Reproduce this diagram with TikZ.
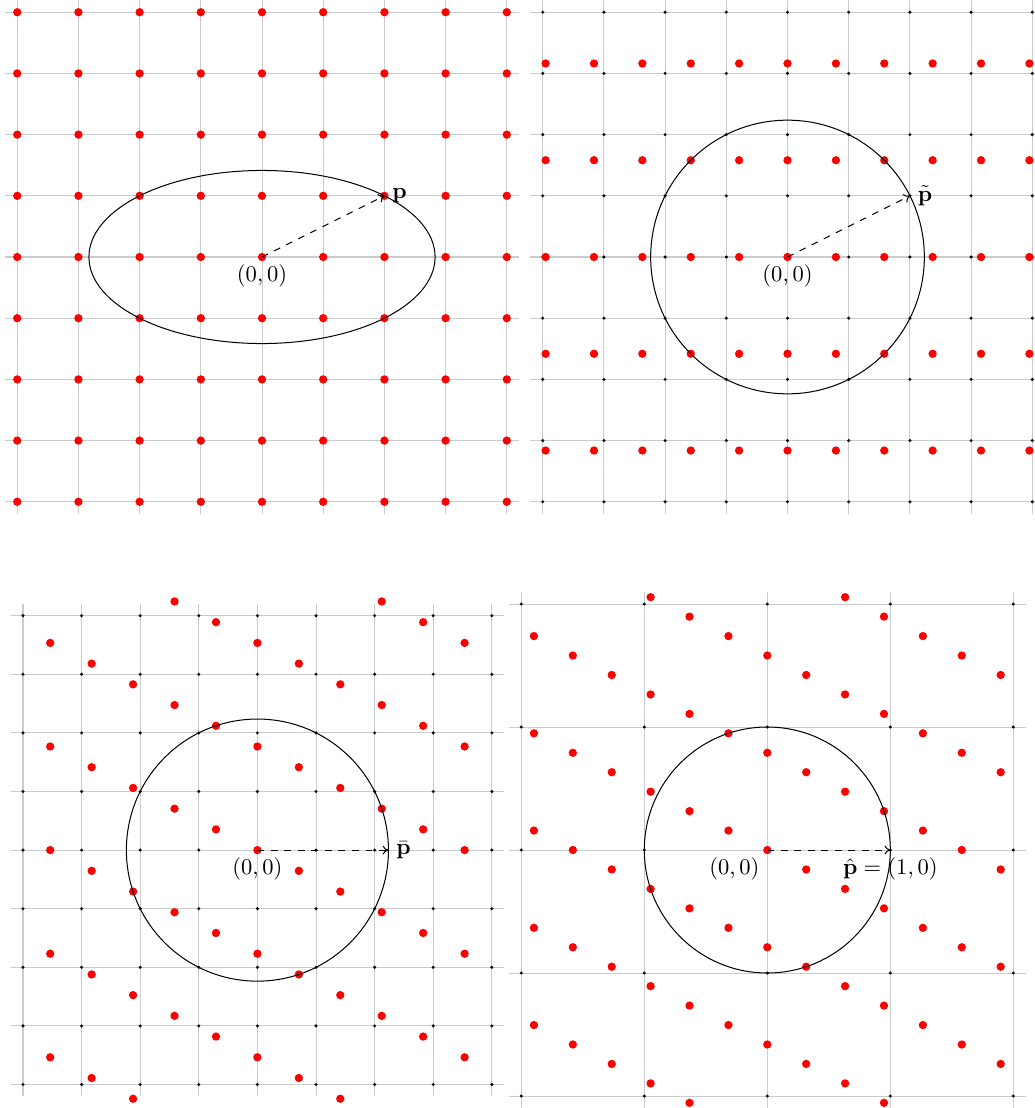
\documentclass[tikz,border=0pt]{standalone}
\usetikzlibrary{arrows.meta}
\tikzset{
  gridline/.style={gray!40, line width=0.45pt},
  reddot/.style={fill=red},
  blackdot/.style={fill=black},
  curve/.style={black, line width=0.45pt},
  vecarrow/.style={dashed, line width=0.45pt, -{To[length=2.6pt,width=4pt]}},
  lbl/.style={inner sep=3.33pt}
}
\begin{document}
\begin{tikzpicture}
\useasboundingbox (0,0) rectangle (459.1pt,-491.95pt);

% ---------- Panel 1 ----------
\begin{scope}[shift={(116.33pt,-114.11pt)}, x=27.17pt, y=27.17pt]
  \draw[gridline, step=1] (-4.2,-4.2) grid (4.2,4.2);
  \foreach \i in {-4,...,4}
    \foreach \j in {-4,...,4}
      \fill[reddot] (\i,\j) circle (1.85pt);
  \draw[curve] (0,0) ellipse [x radius=2.8284, y radius=1.4142];
  \coordinate (o1) at (0,0);
  \coordinate (p1) at (2,1);
  \draw[vecarrow] (o1) -- (p1);
  \node[lbl, below] (l01) at (o1) {$(0,0)$};
  \node[lbl, right] (lp1) at (p1) {$\mathbf{p}$};
\end{scope}

% ---------- Panel 2 ----------
\begin{scope}[shift={(349.65pt,-114.11pt)}, x=27.17pt, y=27.17pt]
  \draw[gridline, step=1] (-4.2,-4.2) grid (4.2,4.2);
  \foreach \i in {-4,...,4}
    \foreach \j in {-4,...,4}
      \fill[blackdot] (\i,\j) circle (0.75pt);
  \foreach \i in {-5,...,5}
    \foreach \j in {-2,...,2}
      \fill[reddot] ({0.790569*\i},{1.581139*\j}) circle (1.85pt);
  \draw[curve] (0,0) circle [radius=2.23607];
  \coordinate (o2) at (0,0);
  \coordinate (p2) at (2,1);
  \draw[vecarrow] (o2) -- (p2);
  \node[lbl, below] (l02) at (o2) {$(0,0)$};
  \node[lbl, right] (lp2) at (p2) {$\tilde{\mathbf{p}}$};
\end{scope}

% ---------- Panel 3 ----------
\begin{scope}[shift={(114.29pt,-377.44pt)}, x=26.02pt, y=26.02pt]
  \draw[gridline, step=1] (-4.2,-4.2) grid (4.2,4.2);
  \foreach \i in {-4,...,4}
    \foreach \j in {-4,...,4}
      \fill[blackdot] (\i,\j) circle (0.75pt);
  \begin{scope}
    \clip (-4.2,-4.4) rectangle (4.2,4.4);
    \foreach \s in {-5,...,5}
      \foreach \j in {-4,...,4}
        \fill[reddot] ({0.707107*\s},{-0.353553*\s+1.767767*\j}) circle (1.85pt);
  \end{scope}
  \draw[curve] (0,0) circle [radius=2.23607];
  \coordinate (o3) at (0,0);
  \coordinate (p3) at (2.23607,0);
  \draw[vecarrow] (o3) -- (p3);
  \node[lbl, below] (l03) at (o3) {$(0,0)$};
  \node[lbl, right] (lp3) at (p3) {$\bar{\mathbf{p}}$};
\end{scope}

% ---------- Panel 4 ----------
\begin{scope}[shift={(340.68pt,-377.4pt)}, x=54.61pt, y=54.61pt]
  \draw[gridline, step=1] (-2.1,-2.1) grid (2.1,2.1);
  \foreach \i in {-2,...,2}
    \foreach \j in {-2,...,2}
      \fill[blackdot] (\i,\j) circle (0.75pt);
  \begin{scope}
    \clip (-2.1,-2.1) rectangle (2.1,2.1);
    \foreach \s in {-6,...,6}
      \foreach \j in {-4,...,4}
        \fill[reddot] ({0.316228*\s},{-0.158114*\s+0.790569*\j}) circle (1.85pt);
  \end{scope}
  \draw[curve] (0,0) circle [radius=1];
  \coordinate (o4) at (0,0);
  \coordinate (p4) at (1,0);
  \draw[vecarrow] (o4) -- (p4);
  \node[lbl, below left] (l04) at (o4) {$(0,0)$};
  \node[lbl, below] (lp4) at (p4) {$\hat{\mathbf{p}}=(1,0)$};
\end{scope}
\end{tikzpicture}
\end{document}
